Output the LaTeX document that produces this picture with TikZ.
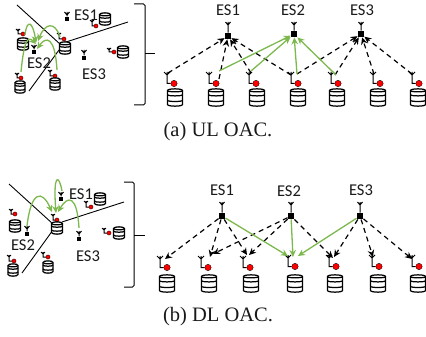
\documentclass[tikz,border=0pt]{standalone}
\usepackage{fontspec}
\setmainfont{Liberation Serif}
\newfontfamily\esfont{Carlito}
\usetikzlibrary{arrows.meta}
\definecolor{arrowgreen}{HTML}{7DB84E}
\tikzset{
 eslabel/.style={font=\esfont\fontsize{16.5}{18}\selectfont,inner sep=0pt,text=black!90},
 captionlabel/.style={font=\fontsize{20.5}{22}\selectfont,inner sep=0pt,text=black!90},
 esbox/.style={fill=black,inner sep=0pt,minimum size=#1},
 reddot/.style={circle,fill=red,draw=black,line width=.3pt,inner sep=0pt,minimum size=#1},
 wire/.style={line width=1pt,black},
 dashlink/.style={line width=1.2pt,dash pattern=on 5pt off 4pt,-{Stealth[length=7pt,width=6.5pt]}},
 greenarc/.style={line width=1.3pt,color=arrowgreen,-{Stealth[length=7pt,width=6.5pt]}},
 boundary/.style={line width=.9pt,black},
 bracketline/.style={line width=1pt,black},
}
% database icon: centre, half width, half height
\newcommand{\dbicon}[4]{%
 \begin{scope}[shift={(#1,#2)},line width=1.25pt]
  \filldraw[fill=white,draw=black] (-#3,-#4+1.5) .. controls (-#3,-#4-.7) and (#3,-#4-.7) .. (#3,-#4+1.5)
    -- (#3,#4-1.5) .. controls (#3,#4+.7) and (-#3,#4+.7) .. (-#3,#4-1.5) -- cycle;
  \draw (-#3,-#4+1.5) .. controls (-#3,-#4+3.3) and (#3,-#4+3.3) .. (#3,-#4+1.5);
  \draw (-#3,-.33*#4) .. controls (-#3,-.33*#4+1.6) and (#3,-.33*#4+1.6) .. (#3,-.33*#4);
  \draw (-#3,.33*#4) .. controls (-#3,.33*#4+1.6) and (#3,.33*#4+1.6) .. (#3,.33*#4);
 \end{scope}}
% antenna with a red dot: name, x, y of the tip
\newcommand{\bigdev}[3]{%
 \coordinate (#1) at (#2,#3);
 \node[reddot=6.4pt] (#1dot) at (#2+7,#3+11.5) {};
 \draw[wire] (#2-3,#3) -- (#2,#3+3) -- (#2+3,#3) (#2,#3) -- (#2,#3+11.5) -- (#1dot);}
\newcommand{\smalldev}[5]{%
 \coordinate (#1) at (#2,#3);
 \node[reddot=4.2pt] (#1dot) at (#4,#5) {};
 \draw[wire] (#2-2,#3) -- (#2,#3+2) -- (#2+2,#3) (#2,#3) -- (#2,#5) -- (#1dot);}
% edge server: name, x, y of the box, mast height
\newcommand{\server}[5]{%
 \node[esbox=#5] (#1) at (#2,#3) {};
 \coordinate (#1top) at (#2,#3-#4);
 \draw[wire] (#2-2.5,#3-#4) -- (#2,#3-#4+3) -- (#2+2.5,#3-#4) (#1top) -- (#1);}
\begin{document}
\begin{tikzpicture}[x=1pt,y=-1pt]
\useasboundingbox (0,0) rectangle (426,337);

% ---------- UL map ----------
\coordinate (ua1) at (17,5);  \coordinate (ua2) at (60,44);
\coordinate (ub1) at (66,42); \coordinate (ub2) at (128,22);
\coordinate (uc1) at (29,91); \coordinate (uc2) at (59,50);
\draw[boundary] (ua1)--(ua2) (ub1)--(ub2) (uc1)--(uc2);

\smalldev{um1}{18}{29}{23}{34} \dbicon{23}{44}{5.5}{6}
\smalldev{um2}{59}{33}{64}{39} \dbicon{65}{48}{5.5}{6}
\smalldev{um3}{92}{20}{96}{26} \dbicon{105}{19}{5.5}{6}
\smalldev{um4}{109}{48}{114}{52} \dbicon{123}{52}{5.5}{6}
\smalldev{um5}{17}{73}{21}{78} \dbicon{20}{87}{5}{6}
\smalldev{um6}{50}{70}{55}{76} \dbicon{55}{84}{5}{6}
\server{us1}{67}{19}{7}{4.8pt}
\server{us2}{34}{52}{7}{4.8pt}
\server{us3}{84}{58}{8}{4.8pt}
\node[eslabel] (ul1) at (86,15) {ES1};
\node[eslabel] (ul2) at (39,63) {ES2};
\node[eslabel] (ul3) at (94,74) {ES3};
\coordinate (ug1) at (21,72); \coordinate (ug2) at (36,44);
\coordinate (ug3) at (57,70); \coordinate (ug4) at (37,49);
\coordinate (ug5) at (60,37); \coordinate (ug6) at (38,41);
\coordinate (ug7) at (25,35); \coordinate (ug8) at (36,43);
\draw[greenarc] (ug1) .. controls (24,40) and (28,36) .. (ug2);
\draw[greenarc] (ug3) .. controls (55,36) and (46,36) .. (ug4);
\draw[greenarc] (ug5) .. controls (55,21) and (45,23) .. (ug6);
\draw[greenarc] (ug7) .. controls (27,18) and (33,22) .. (ug8);

% bracket UL
\coordinate (ubA) at (134,4); \coordinate (ubB) at (145,4); \coordinate (ubC) at (145,105);
\coordinate (ubD) at (134,105); \coordinate (ubM) at (145,54); \coordinate (ubT) at (155,54);
\draw[bracketline,rounded corners=1.5pt] (ubA)--(ubB)--(ubC)--(ubD);
\draw[bracketline] (ubM)--(ubT);

% ---------- UL network ----------
\server{A1}{228}{36}{14}{6.5pt}
\server{A2}{294}{34}{12}{6.5pt}
\server{A3}{361}{34}{12}{6.5pt}
\node[eslabel] (lA1) at (228,10) {ES1};
\node[eslabel] (lA2) at (293,10) {ES2};
\node[eslabel] (lA3) at (362,10) {ES3};
\bigdev{a1}{167}{72}\dbicon{175}{97.5}{7.5}{8.5}
\bigdev{a2}{209}{72}\dbicon{216}{97.5}{7.5}{8.5}
\bigdev{a3}{249}{72}\dbicon{257}{97.5}{7.5}{8.5}
\bigdev{a4}{291}{72}\dbicon{298}{97.5}{7.5}{8.5}
\bigdev{a5}{331}{72}\dbicon{337}{97.5}{7.5}{8.5}
\bigdev{a6}{373}{72}\dbicon{378}{97.5}{7.5}{8.5}
\bigdev{a7}{412}{72}\dbicon{418}{97.5}{7.5}{8.5}

\draw[dashlink] ([xshift=1pt,yshift=-1pt]a1) -- (A1);
\draw[dashlink] ([xshift=10pt,yshift=-7pt]a2) -- (A1);
\draw[dashlink] ([xshift=2pt,yshift=-1pt]a3) -- (A1);
\draw[dashlink] ([yshift=-3pt]a4) -- (A1);
\draw[dashlink] ([xshift=6pt,yshift=-2pt]a4) -- (A3);
\draw[dashlink] ([xshift=4pt,yshift=-3pt]a5) -- (A3);
\draw[dashlink] ([xshift=1pt,yshift=-2pt]a6) -- (A3);
\draw[dashlink] ([yshift=-2pt]a7) -- (A3);
\draw[greenarc] ([xshift=10pt,yshift=1pt]a2) -- (A2);
\draw[greenarc] ([xshift=2pt,yshift=1pt]a3) -- (A2);
\draw[greenarc] ([xshift=6pt,yshift=-2pt]a4) -- (A2);
\draw[greenarc] ([xshift=5pt,yshift=-3pt]a5) -- (A2);

\node[captionlabel] (capA) at (218,132) {(a) UL OAC.};

% ---------- DL map ----------
\coordinate (da1) at (9,184);  \coordinate (da2) at (53,224);
\coordinate (db1) at (62,222); \coordinate (db2) at (124,202);
\coordinate (dc1) at (22,273); \coordinate (dc2) at (53,230);
\draw[boundary] (da1)--(da2) (db1)--(db2) (dc1)--(dc2);

\smalldev{dm1}{11}{209}{15}{214} \dbicon{15}{226}{5.5}{6}
\smalldev{dm2}{53}{214}{57}{220} \dbicon{57}{228}{5.5}{6}
\smalldev{dm3}{86}{201}{91}{207} \dbicon{100}{199}{5.5}{6}
\smalldev{dm4}{104}{228}{109}{233} \dbicon{119}{233}{5.5}{6}
\smalldev{dm5}{9}{255}{14}{261} \dbicon{13}{270}{5}{6}
\smalldev{dm6}{43}{252}{48}{257} \dbicon{48}{267}{5}{6}
\server{ds1}{61}{199}{7}{4.8pt}
\server{ds2}{27}{234}{8}{4.8pt}
\server{ds3}{79}{239}{8}{4.8pt}
\node[eslabel] (dl1) at (81,194) {ES1};
\node[eslabel] (dl2) at (23,245) {ES2};
\node[eslabel] (dl3) at (88,256) {ES3};
\coordinate (dg1) at (62,191); \coordinate (dg2) at (56,213);
\coordinate (dg3) at (27,226); \coordinate (dg4) at (52,212);
\coordinate (dg5) at (79,228); \coordinate (dg6) at (58,212);
\draw[greenarc] (dg1) .. controls (59,174) and (53,173) .. (dg2);
\draw[greenarc] (dg3) .. controls (31,191) and (42,189) .. (dg4);
\draw[greenarc] (dg5) .. controls (77,195) and (68,195) .. (dg6);

% bracket DL
\coordinate (dbA) at (124,182); \coordinate (dbB) at (134,182); \coordinate (dbC) at (134,287);
\coordinate (dbD) at (124,287); \coordinate (dbM) at (134,235); \coordinate (dbT) at (145,235);
\draw[bracketline,rounded corners=1.5pt] (dbA)--(dbB)--(dbC)--(dbD);
\draw[bracketline] (dbM)--(dbT);

% ---------- DL network ----------
\server{B1}{222}{216}{14}{6.5pt}
\server{B2}{291}{216}{14}{6.5pt}
\server{B3}{360}{216}{14}{6.5pt}
\node[eslabel] (lB1) at (222,190) {ES1};
\node[eslabel] (lB2) at (289,191) {ES2};
\node[eslabel] (lB3) at (361,190) {ES3};
\bigdev{b1}{160}{256}\dbicon{167}{283.5}{7.5}{8.5}
\bigdev{b2}{201}{256}\dbicon{209}{283.5}{7.5}{8.5}
\bigdev{b3}{243}{256}\dbicon{251}{283.5}{7.5}{8.5}
\bigdev{b4}{288}{255}\dbicon{295}{283.5}{7.5}{8.5}
\bigdev{b5}{329}{255}\dbicon{335}{283.5}{7.5}{8.5}
\bigdev{b6}{372}{255}\dbicon{378}{283.5}{7.5}{8.5}
\bigdev{b7}{412}{255}\dbicon{418}{283.5}{7.5}{8.5}

\draw[dashlink] (B1) -- ([xshift=5pt,yshift=-3pt]b1);
\draw[dashlink] (B1) -- ([xshift=9pt,yshift=-1pt]b2);
\draw[dashlink] (B2) -- ([xshift=12pt,yshift=2pt]b2);
\draw[dashlink] (B1) -- ([xshift=4pt,yshift=1pt]b3);
\draw[dashlink] (B2) -- ([xshift=6pt,yshift=1pt]b3);
\draw[dashlink] (B2) -- ([xshift=4pt,yshift=-3pt]b5);
\draw[dashlink] (B3) -- ([xshift=5pt,yshift=-2pt]b5);
\draw[dashlink] (B3) -- ([xshift=1pt,yshift=-2pt]b6);
\draw[dashlink] (B3) -- ([yshift=-4pt]b7);
\draw[greenarc] (B1) -- ([yshift=-1pt]b4);
\draw[greenarc] (B2) -- ([xshift=5pt,yshift=-2pt]b4);
\draw[greenarc] (B3) -- ([xshift=10pt,yshift=-1pt]b4);

\node[captionlabel] (capB) at (218,317) {(b) DL OAC.};
\end{tikzpicture}
\end{document}
